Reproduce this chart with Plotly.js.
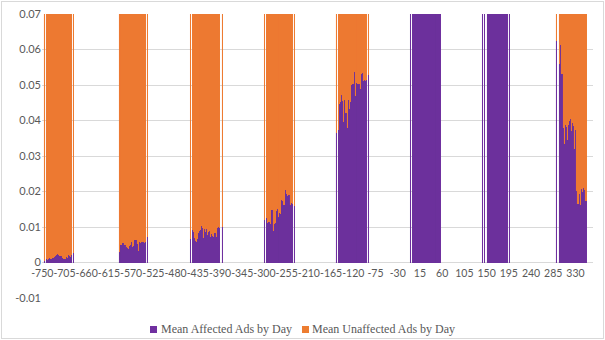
<!DOCTYPE html>
<html><head><meta charset="utf-8">
<script src="https://cdn.plot.ly/plotly-3.0.1.min.js"></script>
<style>
html,body{margin:0;padding:0;background:#fff;}
#chart{position:absolute;left:0;top:0;width:605px;height:340px;}
#frame{position:absolute;left:1px;top:1px;width:603px;height:338px;box-sizing:border-box;border:1px solid #d9d9d9;pointer-events:none;}
</style>
</head><body>
<div id="chart"></div><div id="frame"></div>
<script>
const xTickVals = [-750,-705,-660,-615,-570,-525,-480,-435,-390,-345,-300,-255,-210,-165,-120,-75,-30,15,60,105,150,195,240,285,330];
const xTickText = ['-750','-705','-660','-615','-570','-525','-480','-435','-390','-345','-300','-255','-210','-165','-120','-75','-30','15','60','105','150','195','240','285','330'];
const yTickVals = [-0.01,0,0.01,0.02,0.03,0.04,0.05,0.06,0.07];
const yTickText = ['-0.01','0','0.01','0.02','0.03','0.04','0.05','0.06','0.07'];
const seriesNames = ['Mean Affected Ads by Day','Mean Unaffected Ads by Day'];

// first day of each cluster of days with data (null = no data that day)
const clusterStart = [-746,-595,-450,-300,-155,-4,142,291];

const aff1 = [0.0005,0.0005,null,null,
 0.0008,0.0009,0.0009,0.0008,0.0009,0.0010,0.0011,0.0012,0.0011,0.0010,
 0.0009,0.0009,0.0010,0.0012,0.0013,0.0012,0.0014,0.0016,0.0015,0.0017,
 0.0019,0.0022,0.0024,0.0023,0.0021,0.0022,0.0020,0.0019,0.0021,0.0018,
 0.0017,0.0018,0.0015,0.0013,0.0012,0.0011,0.0010,0.0009,0.0011,0.0010,
 0.0013,0.0015,0.0014,0.0012,0.0017,0.0020,0.0021,0.0019,0.0018,0.0016,
 0.0019,0.0021,0.0020,
 null,0.0026,0.0027];
const unaf1 = [0.118,0.121,null,null,
 0.121,0.119,0.122,0.120,0.118,0.117,0.119,0.121,0.123,0.120,
 0.118,0.116,0.119,0.121,0.120,0.122,0.119,0.117,0.118,0.120,
 0.121,0.119,0.118,0.120,0.122,0.121,0.119,0.117,0.116,0.118,
 0.120,0.121,0.119,0.118,0.120,0.122,0.123,0.121,0.119,0.118,
 0.117,0.119,0.120,0.121,0.119,0.118,0.116,0.117,0.119,0.120,
 0.121,0.119,0.118,
 null,0.117,0.116];

const aff2 = [
 0.0052,0.0031,0.0051,0.0049,0.0048,0.0050,0.0049,0.0054,0.0055,0.0053,
 0.0054,0.0049,0.0050,0.0048,0.0049,0.0042,0.0043,0.0041,0.0042,0.0038,
 0.0039,0.0037,0.0047,0.0046,0.0048,0.0058,0.0057,0.0059,0.0045,0.0044,
 0.0046,0.0063,0.0062,0.0064,0.0064,0.0065,0.0063,0.0053,0.0052,0.0054,
 0.0033,0.0058,0.0057,0.0055,0.0056,0.0054,0.0058,0.0057,0.0059,0.0058,
 0.0057,0.0058,0.0056,0.0059,0.0058,0.0057,
 null,0.0071,0.0072];
const unaf2 = [
 0.114,0.116,0.115,0.117,0.118,0.116,0.115,0.114,0.116,0.117,
 0.118,0.119,0.117,0.116,0.115,0.116,0.118,0.117,0.115,0.114,
 0.116,0.117,0.118,0.116,0.115,0.114,0.116,0.118,0.119,0.117,
 0.116,0.115,0.114,0.116,0.117,0.118,0.116,0.115,0.117,0.118,
 0.116,0.115,0.114,0.116,0.117,0.115,0.116,0.118,0.117,0.116,
 0.115,0.117,0.118,0.116,0.115,0.116,
 null,0.114,0.115];

const aff3 = [0.0067,0.0068,null,null,
 0.0092,0.0090,0.0087,0.0085,0.0070,0.0066,0.0061,0.0059,0.0058,0.0057,
 0.0066,0.0074,0.0083,0.0090,0.0088,0.0080,0.0079,0.0092,0.0100,0.0104,
 0.0105,0.0098,0.0072,0.0070,0.0090,0.0093,0.0088,0.0086,0.0090,0.0094,
 0.0092,0.0077,0.0076,0.0085,0.0089,0.0088,0.0075,0.0073,0.0078,0.0080,
 0.0081,0.0076,0.0072,0.0071,0.0074,0.0084,0.0085,0.0083,0.0072,0.0073,
 0.0071,0.0096,0.0099,0.0100,0.0099,0.0098,0.0100,
 null,null,null,0.0099,0.0100];
const unaf3 = [0.112,0.113,null,null,
 0.111,0.113,0.114,0.112,0.110,0.111,0.113,0.115,0.114,0.112,
 0.111,0.110,0.112,0.113,0.114,0.112,0.111,0.113,0.112,0.110,
 0.109,0.111,0.113,0.114,0.112,0.111,0.110,0.112,0.113,0.111,
 0.112,0.114,0.113,0.111,0.110,0.112,0.113,0.114,0.112,0.111,
 0.110,0.112,0.113,0.114,0.112,0.111,0.110,0.112,0.113,0.112,
 0.111,0.110,0.112,0.113,0.111,0.112,0.110,
 null,null,null,0.111,0.112];

const aff4 = [0.0119,0.0118,null,null,
 0.0124,0.0123,0.0112,0.0110,0.0113,0.0116,0.0115,0.0111,0.0109,0.0110,
 0.0148,0.0150,0.0149,0.0092,0.0090,0.0093,0.0108,0.0112,0.0110,0.0142,
 0.0144,0.0149,0.0150,0.0147,0.0128,0.0126,0.0127,0.0139,0.0141,0.0138,
 0.0176,0.0177,0.0174,0.0173,0.0175,0.0163,0.0161,0.0162,0.0204,0.0205,
 0.0196,0.0194,0.0195,0.0188,0.0187,0.0189,0.0190,0.0191,0.0163,0.0161,
 0.0162,0.0167,0.0168,0.0166,
 null,null,0.0159,0.0158];
const unaf4 = [0.108,0.109,null,null,
 0.107,0.108,0.110,0.109,0.108,0.106,0.107,0.109,0.110,0.108,
 0.106,0.105,0.107,0.110,0.111,0.109,0.108,0.107,0.109,0.106,
 0.105,0.104,0.106,0.107,0.108,0.109,0.107,0.106,0.105,0.107,
 0.103,0.104,0.105,0.106,0.104,0.106,0.107,0.105,0.101,0.102,
 0.103,0.104,0.102,0.103,0.104,0.102,0.103,0.101,0.104,0.105,
 0.104,0.103,0.102,0.104,
 null,null,0.103,0.104];

const aff5 = [0.0368,0.0366,null,null,null,
 0.0372,0.0378,0.0446,0.0449,0.0452,0.0470,0.0473,0.0468,0.0455,0.0451,
 0.0397,0.0395,0.0458,0.0456,0.0420,0.0418,0.0422,0.0382,0.0379,0.0457,
 0.0459,0.0434,0.0432,0.0436,0.0453,0.0451,0.0499,0.0501,0.0504,0.0506,
 0.0503,0.0535,0.0538,0.0472,0.0470,0.0473,0.0507,0.0505,0.0508,0.0504,
 0.0506,0.0503,0.0501,0.0502,0.0490,0.0488,0.0491,0.0532,0.0534,0.0533,
 0.0512,0.0511,0.0513,0.0514,0.0510,0.0512,0.0511,0.0513,
 null,null,0.0528,0.0527];
const unaf5 = [0.081,0.083,null,null,null,
 0.082,0.084,0.080,0.079,0.081,0.078,0.077,0.079,0.080,0.081,
 0.083,0.084,0.080,0.079,0.082,0.081,0.080,0.083,0.084,0.080,
 0.079,0.081,0.082,0.080,0.079,0.081,0.077,0.078,0.076,0.077,
 0.078,0.075,0.074,0.079,0.080,0.078,0.077,0.076,0.075,0.077,
 0.076,0.078,0.077,0.076,0.078,0.079,0.077,0.075,0.074,0.076,
 0.077,0.076,0.075,0.077,0.078,0.076,0.075,0.077,
 null,null,0.075,0.076];

const aff6 = [0.0941,0.0952,null,null,
 0.1012,0.1034,0.1058,0.1047,0.1063,0.1081,0.1072,0.1095,0.1104,0.1088,
 0.1112,0.1126,0.1109,0.1131,0.1144,0.1127,0.1150,0.1138,0.1162,0.1149,
 0.1171,0.1158,0.1180,0.1167,0.1174,0.1189,0.1176,0.1193,0.1185,0.1201,
 0.1188,0.1196,0.1210,0.1203,0.1191,0.1214,0.1207,0.1199,0.1218,0.1209,
 0.1223,0.1211,0.1204,0.1226,0.1215,0.1232,0.1220,0.1213,0.1229,0.1236,
 0.1224,0.1241,0.1230,0.1238,0.1245,0.1233,0.1249,0.1242];
const unaf6 = [0,0,null,null,
 0,0,0,0,0,0,0,0,0,0, 0,0,0,0,0,0,0,0,0,0, 0,0,0,0,0,0,0,0,0,0,
 0,0,0,0,0,0,0,0,0,0, 0,0,0,0,0,0,0,0,0,0, 0,0,0,0,0,0,0,0];

const aff7 = [0.1181,0.1176,null,null,0.1190,0.1185,null,null,null,
 0.1203,0.1198,0.1212,0.1207,0.1219,0.1214,0.1226,0.1221,0.1209,0.1230,
 0.1224,0.1236,0.1229,0.1218,0.1240,0.1233,0.1245,0.1238,0.1227,0.1249,
 0.1241,0.1253,0.1246,0.1235,0.1256,0.1250,0.1261,0.1244,0.1258,0.1252,
 0.1264,0.1257,0.1248,0.1267,0.1260,0.1271,0.1263,0.1255,0.1274,0.1266,
 0.1259,0.1270,
 null,null,0.1262,0.1268];
const unaf7 = [0,0,null,null,0,0,null,null,null,
 0,0,0,0,0,0,0,0,0,0, 0,0,0,0,0,0,0,0,0,0, 0,0,0,0,0,0,0,0,0,0,
 0,0,0,0,0,0,0,0,0,0, 0,0,
 null,null,0,0];

const aff8 = [0.0623,0.0625,null,null,null,null,
 0.0556,0.0560,0.0608,0.0612,0.0535,0.0532,0.0538,0.0530,0.0381,0.0379,
 0.0336,0.0334,0.0388,0.0386,0.0380,0.0381,0.0348,0.0346,0.0388,0.0387,
 0.0396,0.0398,0.0407,0.0405,0.0372,0.0370,0.0360,0.0392,0.0383,0.0384,
 0.0318,0.0320,0.0376,0.0374,0.0203,0.0201,0.0164,0.0165,0.0167,0.0166,
 0.0195,0.0193,0.0164,0.0163,0.0209,0.0208,0.0199,0.0200,0.0209,0.0210,
 0.0206,0.0204,0.0174,0.0173,0.0175,0.0172];
const unaf8 = [0.071,0.070,null,null,null,null,
 0.074,0.073,0.069,0.068,0.075,0.076,0.074,0.075,0.088,0.089,
 0.093,0.094,0.087,0.088,0.089,0.088,0.092,0.091,0.088,0.087,
 0.086,0.087,0.085,0.086,0.089,0.090,0.091,0.087,0.088,0.087,
 0.094,0.093,0.088,0.089,0.106,0.107,0.110,0.109,0.108,0.110,
 0.107,0.108,0.111,0.110,0.105,0.106,0.107,0.106,0.105,0.104,
 0.106,0.107,0.109,0.110,0.108,0.109];

const affectedGroups = [aff1,aff2,aff3,aff4,aff5,aff6,aff7,aff8];
const unaffectedGroups = [unaf1,unaf2,unaf3,unaf4,unaf5,unaf6,unaf7,unaf8];

function build(groups){
  const x = [], y = [];
  groups.forEach((g, ci) => g.forEach((v, i) => { x.push(clusterStart[ci] + i); y.push(v); }));
  return {x, y};
}
const A = build(affectedGroups), U = build(unaffectedGroups);
const purple = '#7030A0', orange = '#ED7D31';
const tickFont = {family:'Lato, "Liberation Sans", sans-serif', size:11, color:'#595959'};
const xTickFont = {family:'Lato, "Liberation Sans", sans-serif', size:10.5, color:'#595959'};

const traces = [
  {type:'bar', name:seriesNames[0], x:A.x, y:A.y, marker:{color:purple, line:{width:0.02, color:purple}}, hoverinfo:'x+y'},
  {type:'bar', name:seriesNames[1], x:U.x, y:U.y, marker:{color:orange, line:{width:0.02, color:orange}}, hoverinfo:'x+y'}
];

const W = 551, H = 284, L = 42, T = 14;
function px(x){ return (x - L)/W; }
function py(y){ return (T + H - y)/H; }
const legendFont = {family:'"Liberation Serif", "DejaVu Serif", serif', size:12, color:'#595959'};

const layout = {
  width:605, height:340,
  margin:{l:42, r:12, t:14, b:42, pad:0},
  paper_bgcolor:'#fff', plot_bgcolor:'#fff',
  barmode:'stack', bargap:0, showlegend:false,
  xaxis:{range:[-750.5,365.5], tickmode:'array', tickvals:xTickVals, ticktext:xTickText,
    showgrid:false, zeroline:false, showline:false, ticks:'', anchor:'free', position:0.125,
    tickfont:xTickFont, tickangle:0, ticklabelstandoff:3, automargin:false, fixedrange:true},
  yaxis:{range:[-0.01,0.07], tickmode:'array', tickvals:yTickVals, ticktext:yTickText,
    showgrid:true, gridcolor:'#d9d9d9', gridwidth:1, zeroline:false, showline:false, ticks:'',
    tickfont:tickFont, automargin:false, fixedrange:true},
  shapes:[
    {type:'rect', xref:'paper', yref:'paper', x0:px(150), x1:px(157), y0:py(333), y1:py(326), fillcolor:purple, line:{width:0}},
    {type:'rect', xref:'paper', yref:'paper', x0:px(302), x1:px(309), y0:py(333), y1:py(326), fillcolor:orange, line:{width:0}}
  ],
  annotations:[
    {xref:'paper', yref:'paper', x:px(159), y:py(329), xanchor:'left', yanchor:'middle', showarrow:false, text:seriesNames[0], font:legendFont},
    {xref:'paper', yref:'paper', x:px(310), y:py(329), xanchor:'left', yanchor:'middle', showarrow:false, text:seriesNames[1], font:legendFont}
  ]
};
Plotly.newPlot('chart', traces, layout, {displayModeBar:false, responsive:false});
</script>
</body></html>
